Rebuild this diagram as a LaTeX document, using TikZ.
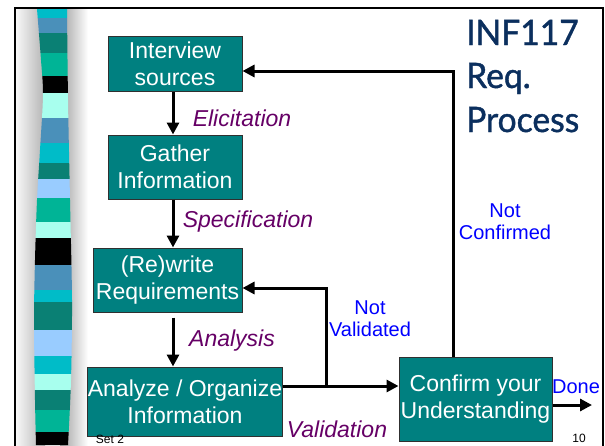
\documentclass[tikz,border=0pt]{standalone}
\usepackage{fontspec}
\setmainfont{Liberation Sans}
\newfontfamily\titlefont[FakeBold=1.2,FakeStretch=0.96]{Lato}
\usetikzlibrary{arrows.meta}
\definecolor{boxteal}{HTML}{008080}
\definecolor{boxedge}{HTML}{303030}
\definecolor{lblpurple}{HTML}{660066}
\definecolor{lblblue}{HTML}{0000FF}
\definecolor{titlenavy}{HTML}{0B2F5E}
\definecolor{stC}{HTML}{00BCC8}
\definecolor{stS}{HTML}{4A90BA}
\definecolor{stD}{HTML}{0A8074}
\definecolor{stG}{HTML}{00B496}
\definecolor{stA}{HTML}{A8FFEE}
\definecolor{stL}{HTML}{99CCFF}
\definecolor{stK}{HTML}{000000}
\tikzset{
  procbox/.style={draw=boxedge, line width=1pt, fill=boxteal, text=white,
    align=center, inner sep=0pt, font=\fontsize{23}{27}\selectfont},
  arr/.style={line width=3pt, -{Triangle[length=12pt,width=12pt]}},
  phase/.style={text=lblpurple, font=\fontsize{23}{26}\selectfont\itshape, inner sep=0pt},
  verdict/.style={text=lblblue, align=center, font=\fontsize{20}{22}\selectfont, inner sep=0pt},
  footer/.style={font=\fontsize{12}{13}\selectfont, inner sep=0pt},
  titleline/.style={anchor=base west, text=titlenavy, inner sep=0pt,
    font=\titlefont\fontsize{35}{40}\selectfont},
}
\begin{document}
\begin{tikzpicture}[x=1pt,y=-1pt]
\useasboundingbox (0,0) rectangle (605,445);
\fill[white] (0,0) rectangle (605,445);

% shadow either side of the decorative strip
\shade[left color=gray!6, right color=gray!60] (16,9) rectangle (45,445);
\shade[left color=gray!75, right color=white] (60,9) rectangle (88,445);

% wavy striped strip
\begin{scope}
  \clip plot[smooth] coordinates {(37,9) (41,60) (43,95) (40,150) (37,200) (35,260) (34,320) (35,400) (36,445)}
    -- plot[smooth] coordinates {(68,445) (71,380) (72,300) (70,200) (68,100) (67,9)} -- cycle;
  \foreach \ya/\yb/\c in {9/18/stC, 18/33/stS, 33/53/stD, 53/76/stG, 76/93/stK,
      93/118/stA, 118/143/stS, 143/163/stC, 163/179/stD, 179/198/stL,
      198/222/stG, 222/238/stA, 238/265/stK, 265/290/stS, 290/302/stC,
      302/330/stD, 330/356/stL, 356/374/stC, 374/390/stA, 390/410/stD,
      410/432/stG, 432/446/stK}
    \fill[\c] (20,\ya) rectangle (80,\yb);
\end{scope}

% slide frame
\draw[line width=2pt] (15,446) -- (15,8) -- (603,8) -- (603,446);

% title
\node[titleline] (title1) at (466,45) {INF117};
\node[titleline] (title2) at (466,88) {Req.};
\node[titleline] (title3) at (466,132) {Process};

% process boxes
\node[procbox, minimum width=134pt, minimum height=55pt] (interview) at (175,63.5) {Interview\\sources};
\node[procbox, minimum width=134pt, minimum height=64pt] (gather) at (175,167) {Gather\\Information};
\node[procbox, minimum width=149pt, minimum height=64pt] (rewrite) at (167.5,280) {(Re)write\\Requirements};
\node[procbox, minimum width=194pt, minimum height=69pt] (analyze) at (185,401.5) {Analyze / Organize\\Information};
\node[procbox, minimum width=153pt, minimum height=84pt] (confirm) at (475.5,399) {Confirm your\\Understanding};

% routing points
\coordinate (spine) at (173,0);
\coordinate (branch) at (326,386);
\coordinate (backval) at (0,288);
\coordinate (upx) at (453,0);
\coordinate (backconf) at (0,71);
\coordinate (doneend) at (592,405);

% connectors
\draw[arr] (interview.south -| spine) -- (gather.north -| spine);
\draw[arr] (gather.south -| spine) -- (rewrite.north -| spine);
\draw[arr, shorten <=5pt] (rewrite.south -| spine) -- (analyze.north -| spine);
\draw[arr] (analyze.east |- branch) -- (confirm.west |- branch);
\draw[arr] (branch) |- (rewrite.east |- backval);
\draw[arr] (confirm.north -| upx) |- (interview.east |- backconf);
\draw[arr] (confirm.east |- doneend) -- (doneend);

% phase labels
\node[phase] (elic) at (242,118) {Elicitation};
\node[phase] (spec) at (248,222) {Specification};
\node[phase] (anal) at (232,341) {Analysis};
\node[phase] (valid) at (337,429) {Validation};

% outcome labels
\node[verdict] (notval) at (370,319) {Not\\Validated};
\node[verdict] (notconf) at (505,222) {Not\\Confirmed};
\node[verdict] (done) at (576,387) {Done};

% footer
\node[footer] (set) at (110,439) {Set 2};
\node[footer] (page) at (579,438) {10};
\end{tikzpicture}
\end{document}
